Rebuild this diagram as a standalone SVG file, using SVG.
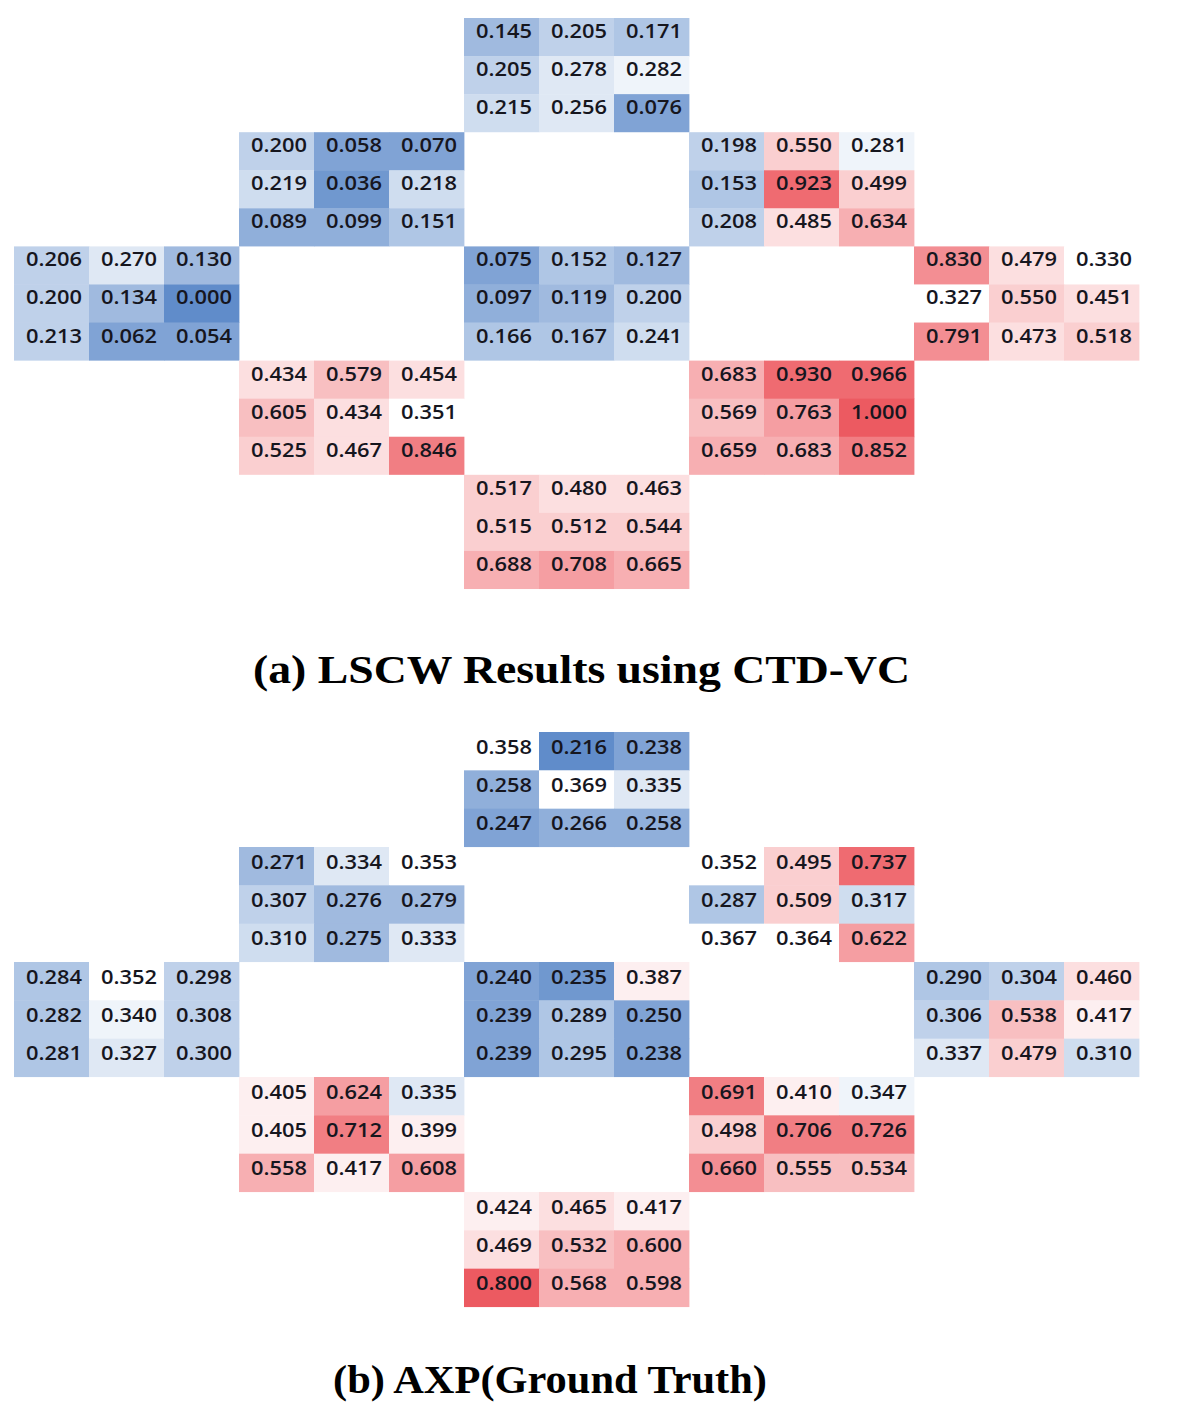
<svg xmlns="http://www.w3.org/2000/svg" width="1201" height="1413" viewBox="0 0 1201 1413">
<style>
.w{fill:#ffffff}
.b1{fill:#eff4fa}.b2{fill:#dfe8f4}.b3{fill:#cfddef}.b4{fill:#bfd1ea}.b5{fill:#afc6e5}
.b6{fill:#a0badf}.b7{fill:#90afda}.b8{fill:#80a3d5}.b9{fill:#7098cf}.b10{fill:#608cca}
.r1{fill:#fdeff0}.r2{fill:#fcdfe0}.r3{fill:#facfd0}.r4{fill:#f8bfc1}.r5{fill:#f7afb2}
.r6{fill:#f59ea2}.r7{fill:#f38e93}.r8{fill:#f17e83}.r9{fill:#ef6b71}.r10{fill:#ec5a61}
.v{font-family:"Open Sans","DejaVu Sans",sans-serif;font-weight:600;font-size:19px;fill:#16161e;text-anchor:middle}
.ttl{font-family:"Liberation Serif","Times New Roman",serif;font-weight:bold;font-size:41px;fill:#000000}
</style>
<rect x="0" y="0" width="1201" height="1413" fill="#ffffff"/>

<g id="panel-a">
<g id="a-top" transform="translate(464,18)">
<rect class="b6" x="0" y="0" width="75.4" height="38.5"/><rect class="b4" x="75" y="0" width="75.4" height="38.5"/><rect class="b5" x="150" y="0" width="75.4" height="38.5"/>
<rect class="b4" x="0" y="38.07" width="75.4" height="38.5"/><rect class="b2" x="75" y="38.07" width="75.4" height="38.5"/><rect class="b1" x="150" y="38.07" width="75.4" height="38.5"/>
<rect class="b3" x="0" y="76.13" width="75.4" height="38.1"/><rect class="b2" x="75" y="76.13" width="75.4" height="38.1"/><rect class="b8" x="150" y="76.13" width="75.4" height="38.1"/>
<text class="v" x="40" y="20" textLength="56" lengthAdjust="spacingAndGlyphs">0.145</text><text class="v" x="115" y="20" textLength="56" lengthAdjust="spacingAndGlyphs">0.205</text><text class="v" x="190" y="20" textLength="56" lengthAdjust="spacingAndGlyphs">0.171</text>
<text class="v" x="40" y="58.07" textLength="56" lengthAdjust="spacingAndGlyphs">0.205</text><text class="v" x="115" y="58.07" textLength="56" lengthAdjust="spacingAndGlyphs">0.278</text><text class="v" x="190" y="58.07" textLength="56" lengthAdjust="spacingAndGlyphs">0.282</text>
<text class="v" x="40" y="96.13" textLength="56" lengthAdjust="spacingAndGlyphs">0.215</text><text class="v" x="115" y="96.13" textLength="56" lengthAdjust="spacingAndGlyphs">0.256</text><text class="v" x="190" y="96.13" textLength="56" lengthAdjust="spacingAndGlyphs">0.076</text>
</g>
<g id="a-upper-left" transform="translate(239,132.2)">
<rect class="b4" x="0" y="0" width="75.4" height="38.5"/><rect class="b8" x="75" y="0" width="75.4" height="38.5"/><rect class="b8" x="150" y="0" width="75.4" height="38.5"/>
<rect class="b3" x="0" y="38.07" width="75.4" height="38.5"/><rect class="b9" x="75" y="38.07" width="75.4" height="38.5"/><rect class="b3" x="150" y="38.07" width="75.4" height="38.5"/>
<rect class="b7" x="0" y="76.13" width="75.4" height="38.1"/><rect class="b7" x="75" y="76.13" width="75.4" height="38.1"/><rect class="b5" x="150" y="76.13" width="75.4" height="38.1"/>
<text class="v" x="40" y="20" textLength="56" lengthAdjust="spacingAndGlyphs">0.200</text><text class="v" x="115" y="20" textLength="56" lengthAdjust="spacingAndGlyphs">0.058</text><text class="v" x="190" y="20" textLength="56" lengthAdjust="spacingAndGlyphs">0.070</text>
<text class="v" x="40" y="58.07" textLength="56" lengthAdjust="spacingAndGlyphs">0.219</text><text class="v" x="115" y="58.07" textLength="56" lengthAdjust="spacingAndGlyphs">0.036</text><text class="v" x="190" y="58.07" textLength="56" lengthAdjust="spacingAndGlyphs">0.218</text>
<text class="v" x="40" y="96.13" textLength="56" lengthAdjust="spacingAndGlyphs">0.089</text><text class="v" x="115" y="96.13" textLength="56" lengthAdjust="spacingAndGlyphs">0.099</text><text class="v" x="190" y="96.13" textLength="56" lengthAdjust="spacingAndGlyphs">0.151</text>
</g>
<g id="a-upper-right" transform="translate(689,132.2)">
<rect class="b4" x="0" y="0" width="75.4" height="38.5"/><rect class="r3" x="75" y="0" width="75.4" height="38.5"/><rect class="b1" x="150" y="0" width="75.4" height="38.5"/>
<rect class="b5" x="0" y="38.07" width="75.4" height="38.5"/><rect class="r9" x="75" y="38.07" width="75.4" height="38.5"/><rect class="r3" x="150" y="38.07" width="75.4" height="38.5"/>
<rect class="b4" x="0" y="76.13" width="75.4" height="38.1"/><rect class="r2" x="75" y="76.13" width="75.4" height="38.1"/><rect class="r5" x="150" y="76.13" width="75.4" height="38.1"/>
<text class="v" x="40" y="20" textLength="56" lengthAdjust="spacingAndGlyphs">0.198</text><text class="v" x="115" y="20" textLength="56" lengthAdjust="spacingAndGlyphs">0.550</text><text class="v" x="190" y="20" textLength="56" lengthAdjust="spacingAndGlyphs">0.281</text>
<text class="v" x="40" y="58.07" textLength="56" lengthAdjust="spacingAndGlyphs">0.153</text><text class="v" x="115" y="58.07" textLength="56" lengthAdjust="spacingAndGlyphs">0.923</text><text class="v" x="190" y="58.07" textLength="56" lengthAdjust="spacingAndGlyphs">0.499</text>
<text class="v" x="40" y="96.13" textLength="56" lengthAdjust="spacingAndGlyphs">0.208</text><text class="v" x="115" y="96.13" textLength="56" lengthAdjust="spacingAndGlyphs">0.485</text><text class="v" x="190" y="96.13" textLength="56" lengthAdjust="spacingAndGlyphs">0.634</text>
</g>
<g id="a-left" transform="translate(14,246.4)">
<rect class="b4" x="0" y="0" width="75.4" height="38.5"/><rect class="b2" x="75" y="0" width="75.4" height="38.5"/><rect class="b6" x="150" y="0" width="75.4" height="38.5"/>
<rect class="b4" x="0" y="38.07" width="75.4" height="38.5"/><rect class="b6" x="75" y="38.07" width="75.4" height="38.5"/><rect class="b10" x="150" y="38.07" width="75.4" height="38.5"/>
<rect class="b4" x="0" y="76.13" width="75.4" height="38.1"/><rect class="b8" x="75" y="76.13" width="75.4" height="38.1"/><rect class="b8" x="150" y="76.13" width="75.4" height="38.1"/>
<text class="v" x="40" y="20" textLength="56" lengthAdjust="spacingAndGlyphs">0.206</text><text class="v" x="115" y="20" textLength="56" lengthAdjust="spacingAndGlyphs">0.270</text><text class="v" x="190" y="20" textLength="56" lengthAdjust="spacingAndGlyphs">0.130</text>
<text class="v" x="40" y="58.07" textLength="56" lengthAdjust="spacingAndGlyphs">0.200</text><text class="v" x="115" y="58.07" textLength="56" lengthAdjust="spacingAndGlyphs">0.134</text><text class="v" x="190" y="58.07" textLength="56" lengthAdjust="spacingAndGlyphs">0.000</text>
<text class="v" x="40" y="96.13" textLength="56" lengthAdjust="spacingAndGlyphs">0.213</text><text class="v" x="115" y="96.13" textLength="56" lengthAdjust="spacingAndGlyphs">0.062</text><text class="v" x="190" y="96.13" textLength="56" lengthAdjust="spacingAndGlyphs">0.054</text>
</g>
<g id="a-center" transform="translate(464,246.4)">
<rect class="b8" x="0" y="0" width="75.4" height="38.5"/><rect class="b5" x="75" y="0" width="75.4" height="38.5"/><rect class="b6" x="150" y="0" width="75.4" height="38.5"/>
<rect class="b7" x="0" y="38.07" width="75.4" height="38.5"/><rect class="b6" x="75" y="38.07" width="75.4" height="38.5"/><rect class="b4" x="150" y="38.07" width="75.4" height="38.5"/>
<rect class="b5" x="0" y="76.13" width="75.4" height="38.1"/><rect class="b5" x="75" y="76.13" width="75.4" height="38.1"/><rect class="b3" x="150" y="76.13" width="75.4" height="38.1"/>
<text class="v" x="40" y="20" textLength="56" lengthAdjust="spacingAndGlyphs">0.075</text><text class="v" x="115" y="20" textLength="56" lengthAdjust="spacingAndGlyphs">0.152</text><text class="v" x="190" y="20" textLength="56" lengthAdjust="spacingAndGlyphs">0.127</text>
<text class="v" x="40" y="58.07" textLength="56" lengthAdjust="spacingAndGlyphs">0.097</text><text class="v" x="115" y="58.07" textLength="56" lengthAdjust="spacingAndGlyphs">0.119</text><text class="v" x="190" y="58.07" textLength="56" lengthAdjust="spacingAndGlyphs">0.200</text>
<text class="v" x="40" y="96.13" textLength="56" lengthAdjust="spacingAndGlyphs">0.166</text><text class="v" x="115" y="96.13" textLength="56" lengthAdjust="spacingAndGlyphs">0.167</text><text class="v" x="190" y="96.13" textLength="56" lengthAdjust="spacingAndGlyphs">0.241</text>
</g>
<g id="a-right" transform="translate(914,246.4)">
<rect class="r7" x="0" y="0" width="75.4" height="38.5"/><rect class="r2" x="75" y="0" width="75.4" height="38.5"/><rect class="w" x="150" y="0" width="75.4" height="38.5"/>
<rect class="w" x="0" y="38.07" width="75.4" height="38.5"/><rect class="r3" x="75" y="38.07" width="75.4" height="38.5"/><rect class="r2" x="150" y="38.07" width="75.4" height="38.5"/>
<rect class="r7" x="0" y="76.13" width="75.4" height="38.1"/><rect class="r2" x="75" y="76.13" width="75.4" height="38.1"/><rect class="r3" x="150" y="76.13" width="75.4" height="38.1"/>
<text class="v" x="40" y="20" textLength="56" lengthAdjust="spacingAndGlyphs">0.830</text><text class="v" x="115" y="20" textLength="56" lengthAdjust="spacingAndGlyphs">0.479</text><text class="v" x="190" y="20" textLength="56" lengthAdjust="spacingAndGlyphs">0.330</text>
<text class="v" x="40" y="58.07" textLength="56" lengthAdjust="spacingAndGlyphs">0.327</text><text class="v" x="115" y="58.07" textLength="56" lengthAdjust="spacingAndGlyphs">0.550</text><text class="v" x="190" y="58.07" textLength="56" lengthAdjust="spacingAndGlyphs">0.451</text>
<text class="v" x="40" y="96.13" textLength="56" lengthAdjust="spacingAndGlyphs">0.791</text><text class="v" x="115" y="96.13" textLength="56" lengthAdjust="spacingAndGlyphs">0.473</text><text class="v" x="190" y="96.13" textLength="56" lengthAdjust="spacingAndGlyphs">0.518</text>
</g>
<g id="a-lower-left" transform="translate(239,360.6)">
<rect class="r2" x="0" y="0" width="75.4" height="38.5"/><rect class="r4" x="75" y="0" width="75.4" height="38.5"/><rect class="r2" x="150" y="0" width="75.4" height="38.5"/>
<rect class="r4" x="0" y="38.07" width="75.4" height="38.5"/><rect class="r2" x="75" y="38.07" width="75.4" height="38.5"/><rect class="w" x="150" y="38.07" width="75.4" height="38.5"/>
<rect class="r3" x="0" y="76.13" width="75.4" height="38.1"/><rect class="r2" x="75" y="76.13" width="75.4" height="38.1"/><rect class="r8" x="150" y="76.13" width="75.4" height="38.1"/>
<text class="v" x="40" y="20" textLength="56" lengthAdjust="spacingAndGlyphs">0.434</text><text class="v" x="115" y="20" textLength="56" lengthAdjust="spacingAndGlyphs">0.579</text><text class="v" x="190" y="20" textLength="56" lengthAdjust="spacingAndGlyphs">0.454</text>
<text class="v" x="40" y="58.07" textLength="56" lengthAdjust="spacingAndGlyphs">0.605</text><text class="v" x="115" y="58.07" textLength="56" lengthAdjust="spacingAndGlyphs">0.434</text><text class="v" x="190" y="58.07" textLength="56" lengthAdjust="spacingAndGlyphs">0.351</text>
<text class="v" x="40" y="96.13" textLength="56" lengthAdjust="spacingAndGlyphs">0.525</text><text class="v" x="115" y="96.13" textLength="56" lengthAdjust="spacingAndGlyphs">0.467</text><text class="v" x="190" y="96.13" textLength="56" lengthAdjust="spacingAndGlyphs">0.846</text>
</g>
<g id="a-lower-right" transform="translate(689,360.6)">
<rect class="r5" x="0" y="0" width="75.4" height="38.5"/><rect class="r9" x="75" y="0" width="75.4" height="38.5"/><rect class="r9" x="150" y="0" width="75.4" height="38.5"/>
<rect class="r4" x="0" y="38.07" width="75.4" height="38.5"/><rect class="r6" x="75" y="38.07" width="75.4" height="38.5"/><rect class="r10" x="150" y="38.07" width="75.4" height="38.5"/>
<rect class="r5" x="0" y="76.13" width="75.4" height="38.1"/><rect class="r5" x="75" y="76.13" width="75.4" height="38.1"/><rect class="r8" x="150" y="76.13" width="75.4" height="38.1"/>
<text class="v" x="40" y="20" textLength="56" lengthAdjust="spacingAndGlyphs">0.683</text><text class="v" x="115" y="20" textLength="56" lengthAdjust="spacingAndGlyphs">0.930</text><text class="v" x="190" y="20" textLength="56" lengthAdjust="spacingAndGlyphs">0.966</text>
<text class="v" x="40" y="58.07" textLength="56" lengthAdjust="spacingAndGlyphs">0.569</text><text class="v" x="115" y="58.07" textLength="56" lengthAdjust="spacingAndGlyphs">0.763</text><text class="v" x="190" y="58.07" textLength="56" lengthAdjust="spacingAndGlyphs">1.000</text>
<text class="v" x="40" y="96.13" textLength="56" lengthAdjust="spacingAndGlyphs">0.659</text><text class="v" x="115" y="96.13" textLength="56" lengthAdjust="spacingAndGlyphs">0.683</text><text class="v" x="190" y="96.13" textLength="56" lengthAdjust="spacingAndGlyphs">0.852</text>
</g>
<g id="a-bottom" transform="translate(464,474.8)">
<rect class="r3" x="0" y="0" width="75.4" height="38.5"/><rect class="r2" x="75" y="0" width="75.4" height="38.5"/><rect class="r2" x="150" y="0" width="75.4" height="38.5"/>
<rect class="r3" x="0" y="38.07" width="75.4" height="38.5"/><rect class="r3" x="75" y="38.07" width="75.4" height="38.5"/><rect class="r3" x="150" y="38.07" width="75.4" height="38.5"/>
<rect class="r5" x="0" y="76.13" width="75.4" height="38.1"/><rect class="r6" x="75" y="76.13" width="75.4" height="38.1"/><rect class="r5" x="150" y="76.13" width="75.4" height="38.1"/>
<text class="v" x="40" y="20" textLength="56" lengthAdjust="spacingAndGlyphs">0.517</text><text class="v" x="115" y="20" textLength="56" lengthAdjust="spacingAndGlyphs">0.480</text><text class="v" x="190" y="20" textLength="56" lengthAdjust="spacingAndGlyphs">0.463</text>
<text class="v" x="40" y="58.07" textLength="56" lengthAdjust="spacingAndGlyphs">0.515</text><text class="v" x="115" y="58.07" textLength="56" lengthAdjust="spacingAndGlyphs">0.512</text><text class="v" x="190" y="58.07" textLength="56" lengthAdjust="spacingAndGlyphs">0.544</text>
<text class="v" x="40" y="96.13" textLength="56" lengthAdjust="spacingAndGlyphs">0.688</text><text class="v" x="115" y="96.13" textLength="56" lengthAdjust="spacingAndGlyphs">0.708</text><text class="v" x="190" y="96.13" textLength="56" lengthAdjust="spacingAndGlyphs">0.665</text>
</g>
<text id="title-a" class="ttl" x="253" y="683" textLength="657" lengthAdjust="spacingAndGlyphs">(a) LSCW Results using CTD-VC</text>
</g>

<g id="panel-b">
<g id="b-top" transform="translate(464,732)">
<rect class="w" x="0" y="0" width="75.4" height="38.8"/><rect class="b10" x="75" y="0" width="75.4" height="38.8"/><rect class="b8" x="150" y="0" width="75.4" height="38.8"/>
<rect class="b7" x="0" y="38.33" width="75.4" height="38.8"/><rect class="w" x="75" y="38.33" width="75.4" height="38.8"/><rect class="b2" x="150" y="38.33" width="75.4" height="38.8"/>
<rect class="b8" x="0" y="76.67" width="75.4" height="38.4"/><rect class="b7" x="75" y="76.67" width="75.4" height="38.4"/><rect class="b7" x="150" y="76.67" width="75.4" height="38.4"/>
<text class="v" x="40" y="21.5" textLength="56" lengthAdjust="spacingAndGlyphs">0.358</text><text class="v" x="115" y="21.5" textLength="56" lengthAdjust="spacingAndGlyphs">0.216</text><text class="v" x="190" y="21.5" textLength="56" lengthAdjust="spacingAndGlyphs">0.238</text>
<text class="v" x="40" y="59.83" textLength="56" lengthAdjust="spacingAndGlyphs">0.258</text><text class="v" x="115" y="59.83" textLength="56" lengthAdjust="spacingAndGlyphs">0.369</text><text class="v" x="190" y="59.83" textLength="56" lengthAdjust="spacingAndGlyphs">0.335</text>
<text class="v" x="40" y="98.17" textLength="56" lengthAdjust="spacingAndGlyphs">0.247</text><text class="v" x="115" y="98.17" textLength="56" lengthAdjust="spacingAndGlyphs">0.266</text><text class="v" x="190" y="98.17" textLength="56" lengthAdjust="spacingAndGlyphs">0.258</text>
</g>
<g id="b-upper-left" transform="translate(239,847)">
<rect class="b6" x="0" y="0" width="75.4" height="38.8"/><rect class="b2" x="75" y="0" width="75.4" height="38.8"/><rect class="w" x="150" y="0" width="75.4" height="38.8"/>
<rect class="b4" x="0" y="38.33" width="75.4" height="38.8"/><rect class="b6" x="75" y="38.33" width="75.4" height="38.8"/><rect class="b6" x="150" y="38.33" width="75.4" height="38.8"/>
<rect class="b3" x="0" y="76.67" width="75.4" height="38.4"/><rect class="b6" x="75" y="76.67" width="75.4" height="38.4"/><rect class="b2" x="150" y="76.67" width="75.4" height="38.4"/>
<text class="v" x="40" y="21.5" textLength="56" lengthAdjust="spacingAndGlyphs">0.271</text><text class="v" x="115" y="21.5" textLength="56" lengthAdjust="spacingAndGlyphs">0.334</text><text class="v" x="190" y="21.5" textLength="56" lengthAdjust="spacingAndGlyphs">0.353</text>
<text class="v" x="40" y="59.83" textLength="56" lengthAdjust="spacingAndGlyphs">0.307</text><text class="v" x="115" y="59.83" textLength="56" lengthAdjust="spacingAndGlyphs">0.276</text><text class="v" x="190" y="59.83" textLength="56" lengthAdjust="spacingAndGlyphs">0.279</text>
<text class="v" x="40" y="98.17" textLength="56" lengthAdjust="spacingAndGlyphs">0.310</text><text class="v" x="115" y="98.17" textLength="56" lengthAdjust="spacingAndGlyphs">0.275</text><text class="v" x="190" y="98.17" textLength="56" lengthAdjust="spacingAndGlyphs">0.333</text>
</g>
<g id="b-upper-right" transform="translate(689,847)">
<rect class="w" x="0" y="0" width="75.4" height="38.8"/><rect class="r3" x="75" y="0" width="75.4" height="38.8"/><rect class="r9" x="150" y="0" width="75.4" height="38.8"/>
<rect class="b5" x="0" y="38.33" width="75.4" height="38.8"/><rect class="r3" x="75" y="38.33" width="75.4" height="38.8"/><rect class="b3" x="150" y="38.33" width="75.4" height="38.8"/>
<rect class="w" x="0" y="76.67" width="75.4" height="38.4"/><rect class="w" x="75" y="76.67" width="75.4" height="38.4"/><rect class="r6" x="150" y="76.67" width="75.4" height="38.4"/>
<text class="v" x="40" y="21.5" textLength="56" lengthAdjust="spacingAndGlyphs">0.352</text><text class="v" x="115" y="21.5" textLength="56" lengthAdjust="spacingAndGlyphs">0.495</text><text class="v" x="190" y="21.5" textLength="56" lengthAdjust="spacingAndGlyphs">0.737</text>
<text class="v" x="40" y="59.83" textLength="56" lengthAdjust="spacingAndGlyphs">0.287</text><text class="v" x="115" y="59.83" textLength="56" lengthAdjust="spacingAndGlyphs">0.509</text><text class="v" x="190" y="59.83" textLength="56" lengthAdjust="spacingAndGlyphs">0.317</text>
<text class="v" x="40" y="98.17" textLength="56" lengthAdjust="spacingAndGlyphs">0.367</text><text class="v" x="115" y="98.17" textLength="56" lengthAdjust="spacingAndGlyphs">0.364</text><text class="v" x="190" y="98.17" textLength="56" lengthAdjust="spacingAndGlyphs">0.622</text>
</g>
<g id="b-left" transform="translate(14,962)">
<rect class="b5" x="0" y="0" width="75.4" height="38.8"/><rect class="w" x="75" y="0" width="75.4" height="38.8"/><rect class="b4" x="150" y="0" width="75.4" height="38.8"/>
<rect class="b5" x="0" y="38.33" width="75.4" height="38.8"/><rect class="b1" x="75" y="38.33" width="75.4" height="38.8"/><rect class="b4" x="150" y="38.33" width="75.4" height="38.8"/>
<rect class="b5" x="0" y="76.67" width="75.4" height="38.4"/><rect class="b2" x="75" y="76.67" width="75.4" height="38.4"/><rect class="b4" x="150" y="76.67" width="75.4" height="38.4"/>
<text class="v" x="40" y="21.5" textLength="56" lengthAdjust="spacingAndGlyphs">0.284</text><text class="v" x="115" y="21.5" textLength="56" lengthAdjust="spacingAndGlyphs">0.352</text><text class="v" x="190" y="21.5" textLength="56" lengthAdjust="spacingAndGlyphs">0.298</text>
<text class="v" x="40" y="59.83" textLength="56" lengthAdjust="spacingAndGlyphs">0.282</text><text class="v" x="115" y="59.83" textLength="56" lengthAdjust="spacingAndGlyphs">0.340</text><text class="v" x="190" y="59.83" textLength="56" lengthAdjust="spacingAndGlyphs">0.308</text>
<text class="v" x="40" y="98.17" textLength="56" lengthAdjust="spacingAndGlyphs">0.281</text><text class="v" x="115" y="98.17" textLength="56" lengthAdjust="spacingAndGlyphs">0.327</text><text class="v" x="190" y="98.17" textLength="56" lengthAdjust="spacingAndGlyphs">0.300</text>
</g>
<g id="b-center" transform="translate(464,962)">
<rect class="b8" x="0" y="0" width="75.4" height="38.8"/><rect class="b9" x="75" y="0" width="75.4" height="38.8"/><rect class="r1" x="150" y="0" width="75.4" height="38.8"/>
<rect class="b8" x="0" y="38.33" width="75.4" height="38.8"/><rect class="b5" x="75" y="38.33" width="75.4" height="38.8"/><rect class="b8" x="150" y="38.33" width="75.4" height="38.8"/>
<rect class="b8" x="0" y="76.67" width="75.4" height="38.4"/><rect class="b5" x="75" y="76.67" width="75.4" height="38.4"/><rect class="b8" x="150" y="76.67" width="75.4" height="38.4"/>
<text class="v" x="40" y="21.5" textLength="56" lengthAdjust="spacingAndGlyphs">0.240</text><text class="v" x="115" y="21.5" textLength="56" lengthAdjust="spacingAndGlyphs">0.235</text><text class="v" x="190" y="21.5" textLength="56" lengthAdjust="spacingAndGlyphs">0.387</text>
<text class="v" x="40" y="59.83" textLength="56" lengthAdjust="spacingAndGlyphs">0.239</text><text class="v" x="115" y="59.83" textLength="56" lengthAdjust="spacingAndGlyphs">0.289</text><text class="v" x="190" y="59.83" textLength="56" lengthAdjust="spacingAndGlyphs">0.250</text>
<text class="v" x="40" y="98.17" textLength="56" lengthAdjust="spacingAndGlyphs">0.239</text><text class="v" x="115" y="98.17" textLength="56" lengthAdjust="spacingAndGlyphs">0.295</text><text class="v" x="190" y="98.17" textLength="56" lengthAdjust="spacingAndGlyphs">0.238</text>
</g>
<g id="b-right" transform="translate(914,962)">
<rect class="b5" x="0" y="0" width="75.4" height="38.8"/><rect class="b4" x="75" y="0" width="75.4" height="38.8"/><rect class="r2" x="150" y="0" width="75.4" height="38.8"/>
<rect class="b4" x="0" y="38.33" width="75.4" height="38.8"/><rect class="r4" x="75" y="38.33" width="75.4" height="38.8"/><rect class="r1" x="150" y="38.33" width="75.4" height="38.8"/>
<rect class="b2" x="0" y="76.67" width="75.4" height="38.4"/><rect class="r3" x="75" y="76.67" width="75.4" height="38.4"/><rect class="b3" x="150" y="76.67" width="75.4" height="38.4"/>
<text class="v" x="40" y="21.5" textLength="56" lengthAdjust="spacingAndGlyphs">0.290</text><text class="v" x="115" y="21.5" textLength="56" lengthAdjust="spacingAndGlyphs">0.304</text><text class="v" x="190" y="21.5" textLength="56" lengthAdjust="spacingAndGlyphs">0.460</text>
<text class="v" x="40" y="59.83" textLength="56" lengthAdjust="spacingAndGlyphs">0.306</text><text class="v" x="115" y="59.83" textLength="56" lengthAdjust="spacingAndGlyphs">0.538</text><text class="v" x="190" y="59.83" textLength="56" lengthAdjust="spacingAndGlyphs">0.417</text>
<text class="v" x="40" y="98.17" textLength="56" lengthAdjust="spacingAndGlyphs">0.337</text><text class="v" x="115" y="98.17" textLength="56" lengthAdjust="spacingAndGlyphs">0.479</text><text class="v" x="190" y="98.17" textLength="56" lengthAdjust="spacingAndGlyphs">0.310</text>
</g>
<g id="b-lower-left" transform="translate(239,1077)">
<rect class="r1" x="0" y="0" width="75.4" height="38.8"/><rect class="r6" x="75" y="0" width="75.4" height="38.8"/><rect class="b2" x="150" y="0" width="75.4" height="38.8"/>
<rect class="r1" x="0" y="38.33" width="75.4" height="38.8"/><rect class="r8" x="75" y="38.33" width="75.4" height="38.8"/><rect class="r1" x="150" y="38.33" width="75.4" height="38.8"/>
<rect class="r5" x="0" y="76.67" width="75.4" height="38.4"/><rect class="r1" x="75" y="76.67" width="75.4" height="38.4"/><rect class="r6" x="150" y="76.67" width="75.4" height="38.4"/>
<text class="v" x="40" y="21.5" textLength="56" lengthAdjust="spacingAndGlyphs">0.405</text><text class="v" x="115" y="21.5" textLength="56" lengthAdjust="spacingAndGlyphs">0.624</text><text class="v" x="190" y="21.5" textLength="56" lengthAdjust="spacingAndGlyphs">0.335</text>
<text class="v" x="40" y="59.83" textLength="56" lengthAdjust="spacingAndGlyphs">0.405</text><text class="v" x="115" y="59.83" textLength="56" lengthAdjust="spacingAndGlyphs">0.712</text><text class="v" x="190" y="59.83" textLength="56" lengthAdjust="spacingAndGlyphs">0.399</text>
<text class="v" x="40" y="98.17" textLength="56" lengthAdjust="spacingAndGlyphs">0.558</text><text class="v" x="115" y="98.17" textLength="56" lengthAdjust="spacingAndGlyphs">0.417</text><text class="v" x="190" y="98.17" textLength="56" lengthAdjust="spacingAndGlyphs">0.608</text>
</g>
<g id="b-lower-right" transform="translate(689,1077)">
<rect class="r8" x="0" y="0" width="75.4" height="38.8"/><rect class="r1" x="75" y="0" width="75.4" height="38.8"/><rect class="b1" x="150" y="0" width="75.4" height="38.8"/>
<rect class="r3" x="0" y="38.33" width="75.4" height="38.8"/><rect class="r8" x="75" y="38.33" width="75.4" height="38.8"/><rect class="r8" x="150" y="38.33" width="75.4" height="38.8"/>
<rect class="r7" x="0" y="76.67" width="75.4" height="38.4"/><rect class="r4" x="75" y="76.67" width="75.4" height="38.4"/><rect class="r4" x="150" y="76.67" width="75.4" height="38.4"/>
<text class="v" x="40" y="21.5" textLength="56" lengthAdjust="spacingAndGlyphs">0.691</text><text class="v" x="115" y="21.5" textLength="56" lengthAdjust="spacingAndGlyphs">0.410</text><text class="v" x="190" y="21.5" textLength="56" lengthAdjust="spacingAndGlyphs">0.347</text>
<text class="v" x="40" y="59.83" textLength="56" lengthAdjust="spacingAndGlyphs">0.498</text><text class="v" x="115" y="59.83" textLength="56" lengthAdjust="spacingAndGlyphs">0.706</text><text class="v" x="190" y="59.83" textLength="56" lengthAdjust="spacingAndGlyphs">0.726</text>
<text class="v" x="40" y="98.17" textLength="56" lengthAdjust="spacingAndGlyphs">0.660</text><text class="v" x="115" y="98.17" textLength="56" lengthAdjust="spacingAndGlyphs">0.555</text><text class="v" x="190" y="98.17" textLength="56" lengthAdjust="spacingAndGlyphs">0.534</text>
</g>
<g id="b-bottom" transform="translate(464,1192)">
<rect class="r1" x="0" y="0" width="75.4" height="38.8"/><rect class="r2" x="75" y="0" width="75.4" height="38.8"/><rect class="r1" x="150" y="0" width="75.4" height="38.8"/>
<rect class="r2" x="0" y="38.33" width="75.4" height="38.8"/><rect class="r4" x="75" y="38.33" width="75.4" height="38.8"/><rect class="r5" x="150" y="38.33" width="75.4" height="38.8"/>
<rect class="r10" x="0" y="76.67" width="75.4" height="38.4"/><rect class="r5" x="75" y="76.67" width="75.4" height="38.4"/><rect class="r5" x="150" y="76.67" width="75.4" height="38.4"/>
<text class="v" x="40" y="21.5" textLength="56" lengthAdjust="spacingAndGlyphs">0.424</text><text class="v" x="115" y="21.5" textLength="56" lengthAdjust="spacingAndGlyphs">0.465</text><text class="v" x="190" y="21.5" textLength="56" lengthAdjust="spacingAndGlyphs">0.417</text>
<text class="v" x="40" y="59.83" textLength="56" lengthAdjust="spacingAndGlyphs">0.469</text><text class="v" x="115" y="59.83" textLength="56" lengthAdjust="spacingAndGlyphs">0.532</text><text class="v" x="190" y="59.83" textLength="56" lengthAdjust="spacingAndGlyphs">0.600</text>
<text class="v" x="40" y="98.17" textLength="56" lengthAdjust="spacingAndGlyphs">0.800</text><text class="v" x="115" y="98.17" textLength="56" lengthAdjust="spacingAndGlyphs">0.568</text><text class="v" x="190" y="98.17" textLength="56" lengthAdjust="spacingAndGlyphs">0.598</text>
</g>
<text id="title-b" class="ttl" x="333" y="1393" textLength="434" lengthAdjust="spacingAndGlyphs">(b) AXP(Ground Truth)</text>
</g>
</svg>
